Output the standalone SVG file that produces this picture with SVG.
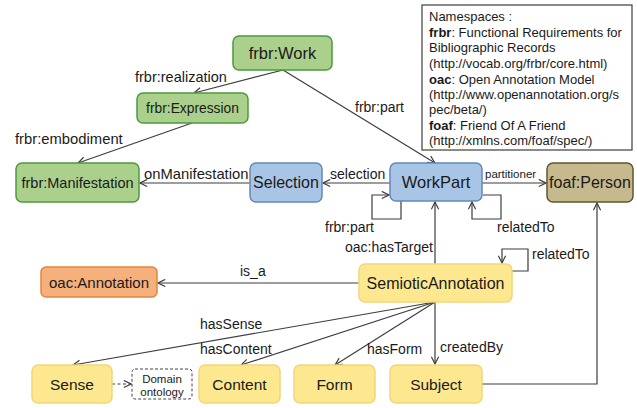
<svg xmlns="http://www.w3.org/2000/svg" width="637" height="408" viewBox="0 0 637 408">
<style>
text{font-family:"Liberation Sans",Arial,sans-serif;fill:#1a1a1a}
.nl{font-size:15px;text-anchor:middle;dominant-baseline:central}
.el{font-size:14px}
.ns{font-size:13px}
.green{fill:#abd08c;stroke:#4b9a3c;stroke-width:1.5}
.blue{fill:#a9c5e6;stroke:#6488bd;stroke-width:1.5}
.brown{fill:#c7b98e;stroke:#5e5535;stroke-width:1.5}
.orange{fill:#f5b07c;stroke:#e2853b;stroke-width:1.5}
.yellow{fill:#fde88f;stroke:#f1d679;stroke-width:1.5}
.edge{fill:none;stroke:#3d3d3d;stroke-width:1.2;marker-end:url(#arr)}
</style>
<defs>
<marker id="arr" viewBox="0 0 10 10" refX="9" refY="5" markerWidth="9" markerHeight="9" markerUnits="userSpaceOnUse" orient="auto">
<path d="M1,1 L9,5 L1,9" fill="none" stroke="#3d3d3d" stroke-width="1.3"/>
</marker>
</defs>
<rect width="637" height="408" fill="#ffffff"/>

<g id="namespaces">
<rect x="422" y="5" width="210" height="145" fill="#ffffff" stroke="#3d3d3d" stroke-width="1.2"/>
<text class="ns" x="429" y="21">Namespaces :</text>
<text class="ns" x="429" y="37"><tspan font-weight="bold">frbr</tspan>: Functional Requirements for</text>
<text class="ns" x="429" y="52">Bibliographic Records</text>
<text class="ns" x="429" y="68">(http://vocab.org/frbr/core.html)</text>
<text class="ns" x="429" y="84"><tspan font-weight="bold">oac</tspan>: Open Annotation Model</text>
<text class="ns" x="429" y="99">(http://www.openannotation.org/s</text>
<text class="ns" x="429" y="114">pec/beta/)</text>
<text class="ns" x="429" y="130"><tspan font-weight="bold">foaf</tspan>: Friend Of A Friend</text>
<text class="ns" x="429" y="145">(http://xmlns.com/foaf/spec/)</text>
</g>

<g id="connectors">
<path class="edge" d="M283,70 L194,93"/>
<path class="edge" d="M192,123 L78,163"/>
<path class="edge" d="M283,70 L435,163"/>
<path class="edge" d="M250,183 L140,183"/>
<path class="edge" d="M390,183 L323,183"/>
<path class="edge" d="M482,183 L546,183"/>
<path class="edge" d="M401,201 L401,219 L372,219 L372,195 L389,195"/>
<path class="edge" d="M483,195 L501,195 L501,219 L472,219 L472,202"/>
<path class="edge" d="M435,264 L435,202"/>
<path class="edge" d="M512,271 L528,271 L528,249 L502,249 L502,263"/>
<path class="edge" d="M359,283 L158,283"/>
<path class="edge" d="M435,302 L73,365"/>
<path class="edge" d="M435,302 L241,365"/>
<path class="edge" d="M435,302 L335,365"/>
<path class="edge" d="M435,302 L435,364"/>
<path class="edge" d="M482,384 L597,384 L597,203"/>
<path class="edge" d="M112,384 L131,384" style="stroke-dasharray:3,2.5"/>
<text class="el" x="135" y="82" style="font-size:14.5px">frbr:realization</text>
<text class="el" x="15" y="144" style="font-size:14.8px">frbr:embodiment</text>
<text class="el" x="355" y="112">frbr:part</text>
<text class="el" x="144" y="179" style="font-size:14.8px">onManifestation</text>
<text class="el" x="330" y="179">selection</text>
<text class="el" x="485" y="178" style="font-size:11.5px">partitioner</text>
<text class="el" x="325" y="232">frbr:part</text>
<text class="el" x="497" y="232">relatedTo</text>
<text class="el" x="345" y="252">oac:hasTarget</text>
<text class="el" x="532" y="259">relatedTo</text>
<text class="el" x="240" y="276">is_a</text>
<text class="el" x="200" y="329">hasSense</text>
<text class="el" x="200" y="354">hasContent</text>
<text class="el" x="367" y="354">hasForm</text>
<text class="el" x="440" y="352">createdBy</text>
</g>

<g id="frbr-work"><rect class="green" x="233" y="36" width="99" height="34" rx="6"/><text class="nl" x="282.5" y="53" style="font-size:16.5px">frbr:Work</text></g>
<g id="frbr-expression"><rect class="green" x="137" y="93" width="111" height="30" rx="6"/><text class="nl" x="192.5" y="108" style="font-size:13.8px">frbr:Expression</text></g>
<g id="frbr-manifestation"><rect class="green" x="16" y="163" width="123" height="39" rx="6"/><text class="nl" x="77.5" y="182.5" style="font-size:14.5px">frbr:Manifestation</text></g>
<g id="selection"><rect class="blue" x="250" y="163" width="72" height="39" rx="6"/><text class="nl" x="286" y="182.5" style="font-size:16px">Selection</text></g>
<g id="workpart"><rect class="blue" x="390" y="163" width="92" height="38" rx="6"/><text class="nl" x="436" y="182" style="font-size:16.5px">WorkPart</text></g>
<g id="foaf-person"><rect class="brown" x="547" y="163" width="86" height="39" rx="6"/><text class="nl" x="590" y="182.5" style="font-size:16px">foaf:Person</text></g>
<g id="oac-annotation"><rect class="orange" x="41" y="267" width="116" height="30" rx="5"/><text class="nl" x="99" y="282" style="font-size:15px">oac:Annotation</text></g>
<g id="semiotic-annotation"><rect class="yellow" x="359" y="264" width="153" height="38" rx="6"/><text class="nl" x="435.5" y="283" style="font-size:16px">SemioticAnnotation</text></g>
<g id="sense"><rect class="yellow" x="32" y="365" width="80" height="38" rx="6"/><text class="nl" x="72" y="384" style="font-size:15.5px">Sense</text></g>
<g id="domain-ontology"><rect x="132" y="369" width="60" height="30" rx="3" fill="#ffffff" stroke="#444444" stroke-width="1" stroke-dasharray="3,2"/><text x="162" y="379" style="font-size:11.5px;text-anchor:middle;dominant-baseline:central">Domain</text><text x="162" y="392" style="font-size:11.5px;text-anchor:middle;dominant-baseline:central">ontology</text></g>
<g id="content"><rect class="yellow" x="199" y="365" width="81" height="38" rx="6"/><text class="nl" x="239.5" y="384" style="font-size:15.5px">Content</text></g>
<g id="form"><rect class="yellow" x="294" y="365" width="81" height="38" rx="6"/><text class="nl" x="334.5" y="384" style="font-size:15.5px">Form</text></g>
<g id="subject"><rect class="yellow" x="390" y="365" width="92" height="38" rx="6"/><text class="nl" x="436" y="384" style="font-size:15.5px">Subject</text></g>
</svg>
